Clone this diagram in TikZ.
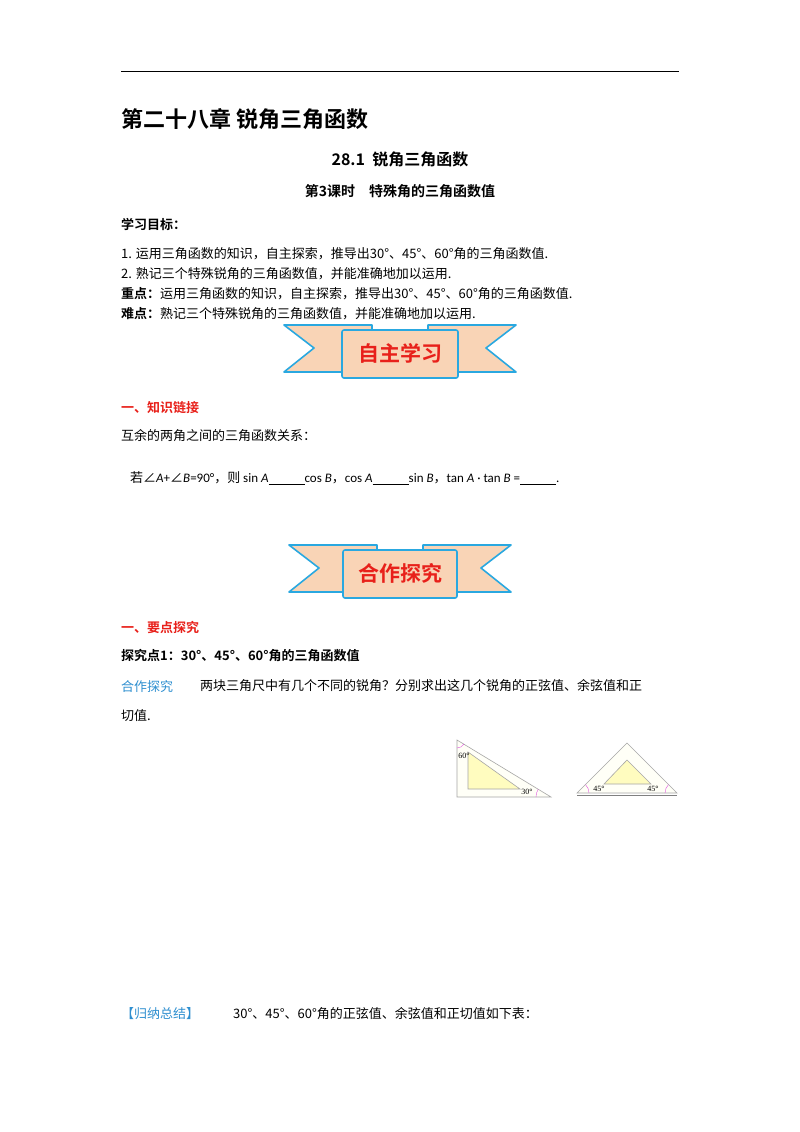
\documentclass[tikz,border=0pt]{standalone}
\usepackage{fontspec}
\setmainfont{Liberation Serif}
\newfontfamily\cjk{Noto Sans CJK SC}
\newfontfamily\cjkb{Noto Sans CJK SC Bold}
\newfontfamily\lat{Carlito}
\definecolor{peach}{HTML}{F9D4B6}
\definecolor{cyanb}{HTML}{2AA8E0}
\definecolor{redt}{HTML}{E8201A}
\definecolor{bluet}{HTML}{2E8FD0}
\definecolor{pinkarc}{HTML}{E055E0}
\begin{document}
\begin{tikzpicture}[x=1pt,y=-1pt,
  txt/.style={anchor=west,inner sep=0pt,font=\cjk\fontsize{13}{13}\selectfont},
  bold/.style={anchor=west,inner sep=0pt,font=\cjkb\fontsize{14}{14}\selectfont},
  ribbon/.style={fill=peach,draw=cyanb,line width=1.6pt,line join=round},
  tri/.style={draw=gray!70,line width=0.6pt}]
\useasboundingbox (0,0) rectangle (800,1132);
\fill[white] (0,0) rectangle (800,1132);
\coordinate (l1) at (121,72); \coordinate (l2) at (679,72);
\draw[line width=1pt] (l1) -- (l2);
\node[bold,font=\cjkb\fontsize{22}{22}\selectfont] (t1) at (121,119) {第二十八章\ 锐角三角函数};
\node[inner sep=0pt,font=\cjkb\fontsize{16}{16}\selectfont] (t2) at (400,159) {28.1\ \ 锐角三角函数};
\node[inner sep=0pt,font=\cjkb\fontsize{14}{14}\selectfont] (t3) at (400,191) {第3课时\quad 特殊角的三角函数值};
\node[bold,font=\cjkb\fontsize{13}{13}\selectfont] (g) at (121,224) {学习目标：};
\node[txt] (g1) at (121,254) {1. 运用三角函数的知识，自主探索，推导出30°、45°、60°角的三角函数值.};
\node[txt] (g2) at (121,274) {2. 熟记三个特殊锐角的三角函数值，并能准确地加以运用.};
\node[txt] (g3) at (121,294) {{\cjkb 重点：}运用三角函数的知识，自主探索，推导出30°、45°、60°角的三角函数值.};
\node[txt] (g4) at (121,314) {{\cjkb 难点：}熟记三个特殊锐角的三角函数值，并能准确地加以运用.};
% banner 1
\draw[ribbon] (284,325)--(372,325)--(372,372)--(284,372)--(314,348)--cycle;
\draw[ribbon] (516,325)--(428,325)--(428,372)--(516,372)--(486,348)--cycle;
\draw[ribbon,rounded corners=2pt] (342,330) rectangle (458,378);
\node[inner sep=0pt,text=redt,font=\cjkb\fontsize{21}{21}\selectfont] (b1) at (400,353) {自主学习};
\node[bold,text=redt,font=\cjkb\fontsize{13}{13}\selectfont] (s1) at (121,408) {一、知识链接};
\node[txt] (s1a) at (121,436) {互余的两角之间的三角函数关系：};
\node[txt] (s1b) at (130,478) {若{\lat{\cjk ∠}\textit{A}+{\cjk ∠}\textit{B}=90°}，则 {\lat sin \textit{A}\underline{\hspace{36pt}}cos \textit{B}}，{\lat cos \textit{A}\underline{\hspace{36pt}}sin \textit{B}}，{\lat tan \textit{A} · tan \textit{B} =\underline{\hspace{36pt}}.}};
% banner 2
\draw[ribbon] (289,545)--(377,545)--(377,592)--(289,592)--(319,568)--cycle;
\draw[ribbon] (511,545)--(423,545)--(423,592)--(511,592)--(481,568)--cycle;
\draw[ribbon,rounded corners=2pt] (343,550) rectangle (457,598);
\node[inner sep=0pt,text=redt,font=\cjkb\fontsize{21}{21}\selectfont] (b2) at (400,573) {合作探究};
\node[bold,text=redt,font=\cjkb\fontsize{13}{13}\selectfont] (s2) at (121,627) {一、要点探究};
\node[bold,font=\cjkb\fontsize{13}{13}\selectfont] (s2a) at (121,656) {探究点1：30°、45°、60°角的三角函数值};
\node[txt,text=bluet] (hz) at (121,686) {合作探究};
\node[txt] (hzt) at (200,686) {两块三角尺中有几个不同的锐角？分别求出这几个锐角的正弦值、余弦值和正};
\node[txt] (hzt2) at (121,716) {切值.};
% triangle 30-60
\draw[tri,fill=yellow!3] (457,740)--(551,797)--(457,797)--cycle;
\draw[tri,fill=yellow!25] (468,752)--(520,789)--(468,789)--cycle;
\draw[pinkarc] (457,748) arc[start angle=90,end angle=31,radius=8];
\draw[pinkarc] (536,797) arc[start angle=180,end angle=211,radius=15];
\node[inner sep=0pt,font=\fontsize{8}{8}\selectfont] (a60) at (464,756) {60°};
\node[inner sep=0pt,font=\fontsize{8}{8}\selectfont] (a30) at (527,792) {30°};
% triangle 45-45
\draw[tri,fill=yellow!3] (627,743)--(677,793)--(577,793)--cycle;
\draw[gray,line width=0.8pt] (577,795)--(677,795);
\draw[tri,fill=yellow!25] (627,760)--(651,784)--(604,784)--cycle;
\draw[pinkarc] (589,793) arc[start angle=0,end angle=-45,radius=12];
\draw[pinkarc] (665,793) arc[start angle=180,end angle=225,radius=12];
\node[inner sep=0pt,font=\fontsize{8}{8}\selectfont] (a45a) at (599,789) {45°};
\node[inner sep=0pt,font=\fontsize{8}{8}\selectfont] (a45b) at (653,789) {45°};
\node[txt,text=bluet] (gn) at (121,1014) {【归纳总结】};
\node[txt] (gnt) at (233,1014) {30°、45°、60°角的正弦值、余弦值和正切值如下表：};
\end{tikzpicture}
\end{document}
